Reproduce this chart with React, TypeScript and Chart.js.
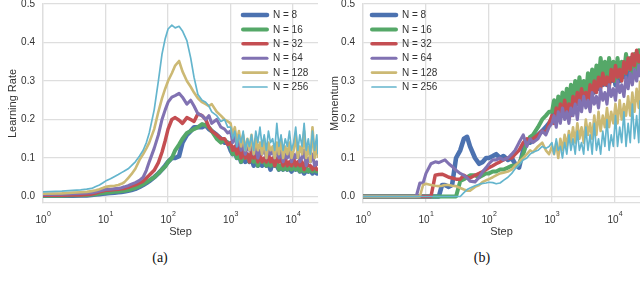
import React, { useEffect, useRef } from 'react';
import { Chart, registerables } from 'chart.js';

Chart.register(...registerables);

// ---------- data ----------
const STEPS = [
  1, 2, 3, 4, 5, 6, 7, 8, 9, 10,
  12, 14, 16, 18, 20, 23, 26, 30, 35, 40,
  45, 50, 60, 70, 80, 90, 100, 115, 130, 150,
  170, 200, 230, 260, 300, 350, 400, 450, 500, 600,
  700, 800, 900, 1000, 1080, 1170, 1260, 1360, 1470, 1590,
  1720, 1860, 2000, 2160, 2340, 2530, 2730, 2950, 3190, 3450,
  3730, 4030, 4350, 4700, 5080, 5490, 5930, 6410, 6920, 7480,
  8080, 8730, 9430, 10200, 11000, 11900, 12800, 13900, 15000, 16200,
  17500, 18900, 20400, 22100, 23900, 25000,
];

const SERIES_LABELS = ['N = 8', 'N = 16', 'N = 32', 'N = 64', 'N = 128', 'N = 256'];

const LR_N8 = [
  0.002, 0.002, 0.002, 0.003, 0.003, 0.004, 0.005, 0.006, 0.007, 0.008,
  0.009, 0.010, 0.011, 0.012, 0.013, 0.015, 0.017, 0.020, 0.025, 0.030,
  0.035, 0.040, 0.050, 0.060, 0.070, 0.080, 0.090, 0.100, 0.100, 0.105,
  0.140, 0.160, 0.170, 0.180, 0.180, 0.180, 0.185, 0.175, 0.170, 0.160,
  0.150, 0.140, 0.140, 0.12, 0.11, 0.12, 0.10, 0.11, 0.09, 0.11,
  0.09, 0.10, 0.09, 0.10, 0.08, 0.10, 0.08, 0.09, 0.08, 0.09,
  0.08, 0.09, 0.07, 0.09, 0.08, 0.08, 0.07, 0.08, 0.07, 0.08,
  0.07, 0.075, 0.065, 0.08, 0.07, 0.075, 0.065, 0.07, 0.06, 0.07,
  0.065, 0.07, 0.06, 0.065, 0.06, 0.065,
];
const LR_N16 = [
  0.002, 0.002, 0.003, 0.003, 0.004, 0.005, 0.006, 0.008, 0.009, 0.010,
  0.011, 0.012, 0.013, 0.014, 0.015, 0.017, 0.019, 0.022, 0.027, 0.032,
  0.037, 0.042, 0.050, 0.060, 0.070, 0.078, 0.090, 0.100, 0.120, 0.135,
  0.150, 0.165, 0.170, 0.175, 0.180, 0.188, 0.185, 0.180, 0.170, 0.150,
  0.140, 0.148, 0.138, 0.13, 0.11, 0.12, 0.10, 0.12, 0.09, 0.11,
  0.10, 0.11, 0.09, 0.10, 0.09, 0.10, 0.08, 0.10, 0.09, 0.09,
  0.08, 0.09, 0.08, 0.09, 0.08, 0.09, 0.07, 0.08, 0.07, 0.08,
  0.07, 0.08, 0.07, 0.08, 0.07, 0.08, 0.065, 0.075, 0.065, 0.075,
  0.065, 0.07, 0.065, 0.07, 0.065, 0.07,
];
const LR_N32 = [
  0.003, 0.003, 0.004, 0.004, 0.005, 0.006, 0.009, 0.012, 0.014, 0.016,
  0.017, 0.018, 0.019, 0.020, 0.021, 0.024, 0.027, 0.030, 0.035, 0.040,
  0.048, 0.055, 0.068, 0.088, 0.115, 0.145, 0.175, 0.200, 0.205, 0.198,
  0.190, 0.205, 0.200, 0.195, 0.215, 0.210, 0.200, 0.180, 0.170, 0.160,
  0.150, 0.150, 0.135, 0.14, 0.12, 0.13, 0.11, 0.13, 0.10, 0.12,
  0.10, 0.11, 0.09, 0.12, 0.10, 0.11, 0.09, 0.11, 0.09, 0.10,
  0.09, 0.11, 0.09, 0.10, 0.08, 0.10, 0.09, 0.10, 0.08, 0.10,
  0.08, 0.09, 0.08, 0.10, 0.08, 0.09, 0.08, 0.09, 0.07, 0.09,
  0.08, 0.08, 0.07, 0.08, 0.07, 0.07,
];
const LR_N64 = [
  0.005, 0.006, 0.007, 0.008, 0.009, 0.010, 0.012, 0.014, 0.016, 0.018,
  0.019, 0.020, 0.021, 0.023, 0.025, 0.028, 0.032, 0.036, 0.042, 0.050,
  0.068, 0.090, 0.125, 0.160, 0.200, 0.225, 0.245, 0.258, 0.262, 0.268,
  0.258, 0.240, 0.250, 0.235, 0.215, 0.210, 0.200, 0.210, 0.190, 0.200,
  0.180, 0.175, 0.165, 0.17, 0.14, 0.16, 0.13, 0.15, 0.12, 0.14,
  0.11, 0.13, 0.12, 0.14, 0.11, 0.13, 0.10, 0.12, 0.11, 0.13,
  0.10, 0.12, 0.11, 0.12, 0.10, 0.13, 0.10, 0.12, 0.09, 0.11,
  0.10, 0.12, 0.09, 0.11, 0.10, 0.12, 0.09, 0.10, 0.12, 0.08,
  0.10, 0.09, 0.11, 0.08, 0.09, 0.08,
];
const LR_N128 = [
  0.007, 0.008, 0.010, 0.011, 0.012, 0.014, 0.016, 0.019, 0.022, 0.025,
  0.027, 0.028, 0.030, 0.033, 0.037, 0.048, 0.058, 0.072, 0.095, 0.110,
  0.125, 0.140, 0.175, 0.220, 0.255, 0.280, 0.300, 0.320, 0.340, 0.352,
  0.325, 0.300, 0.285, 0.270, 0.255, 0.245, 0.240, 0.235, 0.240, 0.220,
  0.210, 0.200, 0.195, 0.19, 0.16, 0.18, 0.14, 0.17, 0.13, 0.16,
  0.12, 0.15, 0.12, 0.16, 0.11, 0.15, 0.12, 0.14, 0.11, 0.15,
  0.10, 0.14, 0.12, 0.13, 0.10, 0.14, 0.11, 0.15, 0.10, 0.13,
  0.11, 0.14, 0.10, 0.12, 0.16, 0.10, 0.13, 0.11, 0.17, 0.10,
  0.13, 0.09, 0.18, 0.10, 0.14, 0.10,
];
const LR_N256 = [
  0.012, 0.014, 0.016, 0.017, 0.019, 0.021, 0.026, 0.030, 0.035, 0.040,
  0.046, 0.052, 0.057, 0.062, 0.066, 0.072, 0.080, 0.090, 0.105, 0.120,
  0.140, 0.165, 0.225, 0.300, 0.370, 0.410, 0.435, 0.445, 0.438, 0.442,
  0.430, 0.405, 0.360, 0.310, 0.265, 0.250, 0.245, 0.235, 0.220, 0.210,
  0.195, 0.200, 0.180, 0.18, 0.15, 0.17, 0.13, 0.16, 0.14, 0.17,
  0.12, 0.15, 0.13, 0.16, 0.12, 0.17, 0.14, 0.18, 0.13, 0.16,
  0.12, 0.17, 0.14, 0.15, 0.12, 0.19, 0.13, 0.16, 0.12, 0.15,
  0.13, 0.17, 0.12, 0.14, 0.18, 0.12, 0.16, 0.13, 0.19, 0.12,
  0.15, 0.11, 0.17, 0.12, 0.16, 0.11,
];

const MOM_N8 = [
  0, 0, 0, 0, 0, 0, 0, 0, 0, 0,
  0, 0, 0, 0.030, 0.030, 0.025, 0.030, 0.100, 0.120, 0.150,
  0.155, 0.130, 0.100, 0.085, 0.090, 0.100, 0.100, 0.105, 0.110, 0.100,
  0.105, 0.095, 0.100, 0.085, 0.075, 0.120, 0.140, 0.140, 0.150, 0.160,
  0.170, 0.180, 0.190, 0.20, 0.23, 0.20, 0.24, 0.21, 0.25, 0.22,
  0.26, 0.22, 0.27, 0.23, 0.28, 0.24, 0.29, 0.25, 0.28, 0.25,
  0.30, 0.26, 0.31, 0.27, 0.32, 0.28, 0.33, 0.29, 0.33, 0.29,
  0.34, 0.30, 0.33, 0.29, 0.34, 0.30, 0.34, 0.31, 0.35, 0.31,
  0.35, 0.31, 0.36, 0.32, 0.36, 0.33,
];
const MOM_N16 = [
  0, 0, 0, 0, 0, 0, 0, 0, 0, 0,
  0, 0, 0, 0, 0, 0, 0, 0, 0.040, 0.045,
  0.050, 0.055, 0.055, 0.050, 0.055, 0.060, 0.060, 0.065, 0.065, 0.070,
  0.070, 0.075, 0.080, 0.080, 0.085, 0.110, 0.140, 0.155, 0.160, 0.180,
  0.200, 0.210, 0.220, 0.22, 0.25, 0.21, 0.26, 0.22, 0.27, 0.23,
  0.28, 0.24, 0.29, 0.25, 0.30, 0.26, 0.31, 0.27, 0.30, 0.26,
  0.32, 0.28, 0.33, 0.29, 0.34, 0.30, 0.36, 0.31, 0.35, 0.30,
  0.36, 0.31, 0.35, 0.30, 0.36, 0.31, 0.35, 0.32, 0.37, 0.33,
  0.36, 0.32, 0.37, 0.33, 0.38, 0.34,
];
const MOM_N32 = [
  0, 0, 0, 0, 0, 0, 0, 0, 0, 0,
  0, 0.055, 0.057, 0.058, 0.055, 0.050, 0.048, 0.045, 0.045, 0.055,
  0.050, 0.048, 0.055, 0.060, 0.065, 0.070, 0.075, 0.080, 0.085, 0.090,
  0.095, 0.100, 0.100, 0.110, 0.120, 0.140, 0.150, 0.145, 0.150, 0.160,
  0.170, 0.165, 0.190, 0.21, 0.19, 0.23, 0.20, 0.24, 0.21, 0.25,
  0.22, 0.24, 0.21, 0.26, 0.23, 0.27, 0.24, 0.28, 0.25, 0.27,
  0.24, 0.29, 0.26, 0.30, 0.27, 0.31, 0.28, 0.32, 0.29, 0.31,
  0.28, 0.33, 0.30, 0.34, 0.31, 0.33, 0.30, 0.35, 0.32, 0.36,
  0.33, 0.37, 0.34, 0.38, 0.35, 0.37,
];
const MOM_N64 = [
  0, 0, 0, 0, 0, 0, 0, 0.035, 0.035, 0.060,
  0.085, 0.090, 0.088, 0.092, 0.095, 0.085, 0.078, 0.068, 0.060, 0.055,
  0.048, 0.040, 0.038, 0.050, 0.065, 0.075, 0.085, 0.095, 0.095, 0.100,
  0.095, 0.100, 0.110, 0.120, 0.140, 0.160, 0.130, 0.150, 0.140, 0.150,
  0.170, 0.160, 0.180, 0.19, 0.21, 0.18, 0.22, 0.19, 0.23, 0.20,
  0.22, 0.19, 0.23, 0.21, 0.24, 0.20, 0.25, 0.22, 0.26, 0.23,
  0.25, 0.22, 0.27, 0.24, 0.26, 0.23, 0.28, 0.25, 0.27, 0.24,
  0.29, 0.26, 0.28, 0.25, 0.30, 0.27, 0.29, 0.26, 0.31, 0.28,
  0.32, 0.29, 0.33, 0.30, 0.34, 0.31,
];
const MOM_N128 = [
  0, 0, 0, 0, 0, 0, 0, 0, 0.030, 0.033,
  0.030, 0.028, 0.027, 0.028, 0.030, 0.030, 0.028, 0.027, 0.022, 0.018,
  0.015, 0.015, 0.025, 0.030, 0.038, 0.042, 0.045, 0.050, 0.055, 0.060,
  0.062, 0.065, 0.070, 0.080, 0.090, 0.100, 0.110, 0.120, 0.115, 0.130,
  0.140, 0.120, 0.110, 0.13, 0.11, 0.14, 0.10, 0.15, 0.12, 0.16,
  0.13, 0.17, 0.14, 0.18, 0.14, 0.19, 0.15, 0.18, 0.14, 0.20,
  0.16, 0.19, 0.15, 0.21, 0.16, 0.22, 0.17, 0.21, 0.18, 0.23,
  0.18, 0.22, 0.19, 0.24, 0.19, 0.25, 0.20, 0.24, 0.21, 0.26,
  0.21, 0.27, 0.22, 0.28, 0.23, 0.30,
];
const MOM_N256 = [
  0, 0, 0, 0, 0, 0, 0, 0, 0, 0,
  0, 0, 0, 0, 0, 0, 0, 0, 0, 0.010,
  0.018, 0.022, 0.028, 0.032, 0.034, 0.035, 0.037, 0.036, 0.033, 0.035,
  0.042, 0.050, 0.060, 0.072, 0.082, 0.095, 0.100, 0.110, 0.115, 0.120,
  0.130, 0.125, 0.130, 0.14, 0.11, 0.15, 0.12, 0.13, 0.10, 0.14,
  0.11, 0.16, 0.12, 0.15, 0.11, 0.17, 0.12, 0.14, 0.11, 0.18,
  0.12, 0.16, 0.11, 0.19, 0.12, 0.15, 0.11, 0.17, 0.13, 0.20,
  0.12, 0.16, 0.13, 0.21, 0.13, 0.18, 0.14, 0.22, 0.13, 0.19,
  0.14, 0.24, 0.15, 0.21, 0.14, 0.25,
];

const LR_SERIES = [LR_N8, LR_N16, LR_N32, LR_N64, LR_N128, LR_N256];
const MOM_SERIES = [MOM_N8, MOM_N16, MOM_N32, MOM_N64, MOM_N128, MOM_N256];

const X_TICKS = [1, 10, 100, 1000, 10000];
const X_TICK_BASE = '10';
const X_TICK_EXP = ['0', '1', '2', '3', '4'];
const Y_TICKS = [0, 0.1, 0.2, 0.3, 0.4, 0.5];

// ---------- styles ----------
const COLORS = ['#4C72B0', '#55A868', '#C44E52', '#8172B2', '#CCB974', '#64B5CD'];
const WIDTHS = [4.6, 4.0, 3.5, 3.1, 2.6, 1.7];
const GRID = '#dedede';
const TEXT = '#333333';
const SANS = '"Liberation Sans", Arial, sans-serif';

const powerTicks = {
  id: 'powerTicks',
  afterDraw(chart: any) {
    const scale = chart.scales.x;
    const ctx = chart.ctx;
    ctx.save();
    ctx.fillStyle = TEXT;
    ctx.textAlign = 'left';
    ctx.textBaseline = 'alphabetic';
    const baseY = chart.chartArea.bottom + 19.5;
    X_TICKS.forEach((v, i) => {
      const px = scale.getPixelForValue(v);
      ctx.font = `10px ${SANS}`;
      const bw = ctx.measureText(X_TICK_BASE).width;
      ctx.font = `7px ${SANS}`;
      const ew = ctx.measureText(X_TICK_EXP[i]).width;
      const x0 = px - (bw + ew) / 2;
      ctx.font = `10px ${SANS}`;
      ctx.fillText(X_TICK_BASE, x0, baseY);
      ctx.font = `7px ${SANS}`;
      ctx.fillText(X_TICK_EXP[i], x0 + bw + 0.3, baseY - 6.5);
    });
    ctx.restore();
  },
};

const insideLegend = {
  id: 'insideLegend',
  afterDatasetsDraw(chart: any, _args: any, opts: any) {
    const { ctx, chartArea } = chart;
    const x0 = chartArea.left + opts.offsetX;
    ctx.save();
    ctx.font = `10px ${SANS}`;
    ctx.fillStyle = TEXT;
    ctx.textAlign = 'left';
    ctx.textBaseline = 'middle';
    chart.data.datasets.forEach((ds: any, i: number) => {
      const y = chartArea.top + opts.offsetY + i * opts.rowGap;
      ctx.strokeStyle = ds.borderColor;
      ctx.lineWidth = ds.borderWidth;
      ctx.lineCap = 'round';
      ctx.beginPath();
      ctx.moveTo(x0, y);
      ctx.lineTo(x0 + opts.lineLen, y);
      ctx.stroke();
      ctx.fillText(ds.label, x0 + opts.lineLen + opts.textGap, y + 0.5);
    });
    ctx.restore();
  },
};

function makeConfig(series: number[][], yTitle: string, legendOffsetX: number, padRight: number, titlePad: number) {
  return {
    type: 'line' as const,
    data: {
      datasets: series.map((vals, i) => ({
        label: SERIES_LABELS[i],
        data: STEPS.map((s, j) => ({ x: s, y: vals[j] })),
        borderColor: COLORS[i],
        backgroundColor: COLORS[i],
        borderWidth: WIDTHS[i],
        pointRadius: 0,
        tension: 0,
        fill: false,
        borderJoinStyle: 'round' as const,
        order: series.length - 1 - i,
      })),
    },
    options: {
      responsive: false,
      animation: false as const,
      devicePixelRatio: 1,
      layout: { padding: { left: 0, right: padRight, top: 4, bottom: 0 } },
      plugins: {
        legend: { display: false },
        tooltip: { enabled: false },
        insideLegend: { offsetX: legendOffsetX, offsetY: 11, rowGap: 14.4, lineLen: 24, textGap: 6 },
      },
      scales: {
        x: {
          type: 'logarithmic' as const,
          min: 1,
          max: 25000,
          afterBuildTicks(scale: any) {
            scale.ticks = X_TICKS.map((v) => ({ value: v }));
          },
          afterFit(scale: any) {
            scale.height = 42;
            scale.paddingLeft = 0;
            scale.paddingRight = 0;
          },
          ticks: { display: false },
          grid: { color: GRID, lineWidth: 1.3, drawTicks: false },
          border: { display: true, color: GRID, width: 1.3 },
          title: {
            display: true,
            text: 'Step',
            color: TEXT,
            font: { family: SANS, size: 11 },
            padding: { top: 0, bottom: 6.4 },
          },
        },
        y: {
          type: 'linear' as const,
          min: -0.0169,
          max: 0.5,
          afterBuildTicks(scale: any) {
            scale.ticks = Y_TICKS.map((v) => ({ value: v }));
          },
          afterFit(scale: any) {
            scale.width = 43;
            scale.paddingTop = 0;
            scale.paddingBottom = 0;
          },
          ticks: {
            color: TEXT,
            font: { family: SANS, size: 10 },
            padding: 8,
            callback: (v: any) => Number(v).toFixed(1),
          },
          grid: { color: GRID, lineWidth: 1.3, drawTicks: false },
          border: { display: true, color: GRID, width: 1.3 },
          title: {
            display: true,
            text: yTitle,
            color: TEXT,
            font: { family: SANS, size: 11 },
            padding: { top: titlePad, bottom: 0 },
          },
        },
      },
    },
    plugins: [powerTicks, insideLegend],
  };
}

function Panel(props: { left: number; series: number[][]; yTitle: string; legendOffsetX: number; padRight: number; titlePad: number }) {
  const ref = useRef<HTMLCanvasElement>(null);
  useEffect(() => {
    const chart = new Chart(ref.current as HTMLCanvasElement, makeConfig(props.series, props.yTitle, props.legendOffsetX, props.padRight, props.titlePad) as any);
    return () => chart.destroy();
  }, []);
  return (
    <div style={{ position: 'absolute', left: props.left, top: 0, width: 320, height: 245 }}>
      <canvas ref={ref} width={320} height={245} style={{ width: 320, height: 245, display: 'block' }} />
    </div>
  );
}

const captionStyle: React.CSSProperties = {
  position: 'absolute',
  top: 249,
  width: 320,
  height: 17,
  lineHeight: '17px',
  textAlign: 'center',
  fontFamily: '"Liberation Serif", "Times New Roman", serif',
  fontSize: 14,
  color: '#111',
};

export default function App() {
  return (
    <div style={{ position: 'fixed', left: 0, top: 0, width: 640, height: 285, background: '#fff', overflow: 'hidden' }}>
      <Panel left={0} series={LR_SERIES} yTitle="Learning Rate" legendOffsetX={200} padRight={2} titlePad={6.5} />
      <Panel left={320} series={MOM_SERIES} yTitle="Momentum" legendOffsetX={9} padRight={0} titlePad={8.5} />
      <div style={{ ...captionStyle, left: 0 }}>(a)</div>
      <div style={{ ...captionStyle, left: 322 }}>(b)</div>
    </div>
  );
}
